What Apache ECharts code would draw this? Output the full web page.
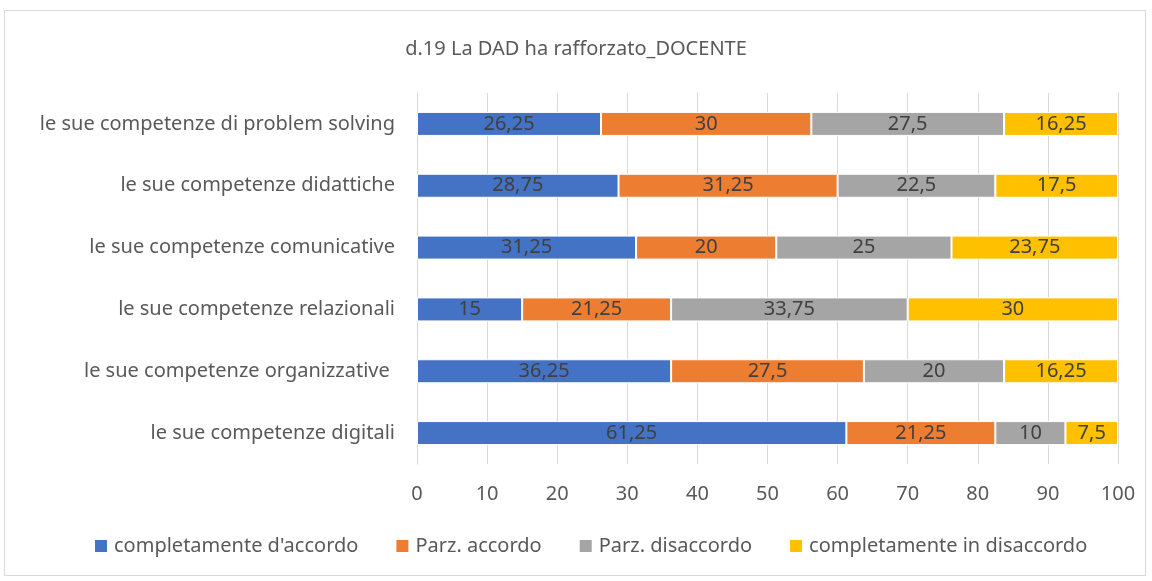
<!DOCTYPE html>
<html>
<head>
<meta charset="utf-8">
<script src="https://cdn.jsdelivr.net/npm/echarts@6/dist/echarts.min.js"></script>
<style>
  html, body { margin: 0; padding: 0; background: #fff; }
  #frame { position: absolute; left: 4px; top: 10px; width: 1142px; height: 566px; border: 1px solid #d9d9d9; box-sizing: border-box; }
  #chart { width: 1152px; height: 581px; }
</style>
</head>
<body>
<div id="frame"></div>
<div id="chart"></div>
<script>
// categories bottom -> top
var categories = [
  'le sue competenze digitali',
  'le sue competenze organizzative ',
  'le sue competenze relazionali',
  'le sue competenze comunicative',
  'le sue competenze didattiche',
  'le sue competenze di problem solving'
];
var seriesNames = ['completamente d\'accordo', 'Parz. accordo', 'Parz. disaccordo', 'completamente in disaccordo'];
var accordo = [61.25, 36.25, 15, 31.25, 28.75, 26.25];
var parzAccordo = [21.25, 27.5, 21.25, 20, 31.25, 30];
var parzDisaccordo = [10, 20, 33.75, 25, 22.5, 27.5];
var disaccordo = [7.5, 16.25, 30, 23.75, 17.5, 16.25];
var colors = ['#4472c4', '#ed7d31', '#a5a5a5', '#ffc000'];

var font = 'Noto Sans, sans-serif';
function mk(name, data, i) {
  return {
    name: name, type: 'bar', stack: 'tot', data: data, barWidth: 24,
    itemStyle: { color: colors[i], borderColor: '#fff', borderWidth: 1 },
    label: {
      show: true, position: 'inside', color: '#404040', fontFamily: font, fontSize: 20,
      formatter: function (p) { return String(p.value).replace('.', ','); }
    }
  };
}

var chart = echarts.init(document.getElementById('chart'));
chart.setOption({
  animation: false,
  title: {
    text: 'd.19 La DAD ha rafforzato_DOCENTE', left: 'center', top: 34,
    textStyle: { color: '#595959', fontFamily: font, fontSize: 20, fontWeight: 'normal' }
  },
  legend: {
    bottom: 20, left: 88, itemWidth: 14, itemHeight: 14, itemGap: 36,
    icon: 'rect', data: seriesNames,
    textStyle: { color: '#595959', fontFamily: font, fontSize: 20, padding: [0, 0, 0, 1] }
  },
  grid: { left: 417, right: 34, top: 93, bottom: 117 },
  xAxis: {
    type: 'value', min: 0, max: 100, interval: 10,
    axisLine: { show: false }, axisTick: { show: false },
    splitLine: { lineStyle: { color: '#d9d9d9' } },
    axisLabel: { color: '#595959', fontFamily: font, fontSize: 20, margin: 20 }
  },
  yAxis: {
    type: 'category', data: categories,
    axisLine: { lineStyle: { color: '#d9d9d9' } }, axisTick: { show: false },
    axisLabel: { color: '#595959', fontFamily: font, fontSize: 20, margin: 22 }
  },
  series: [
    mk(seriesNames[0], accordo, 0),
    mk(seriesNames[1], parzAccordo, 1),
    mk(seriesNames[2], parzDisaccordo, 2),
    mk(seriesNames[3], disaccordo, 3)
  ]
});
</script>
</body>
</html>
